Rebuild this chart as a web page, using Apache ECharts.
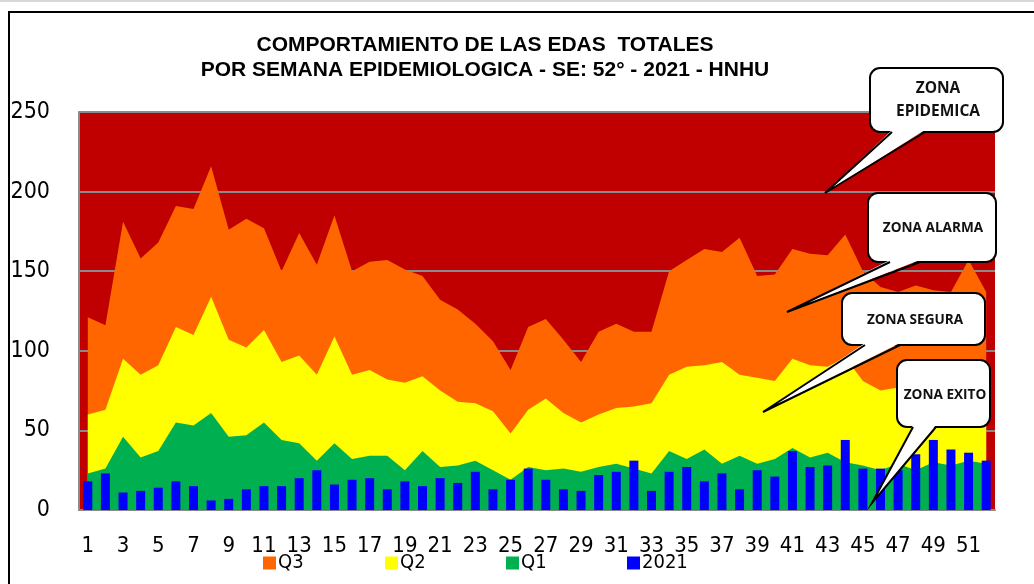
<!DOCTYPE html>
<html>
<head>
<meta charset="utf-8">
<script src="https://cdn.jsdelivr.net/npm/echarts@6/dist/echarts.min.js"></script>
<style>
  html, body { margin: 0; padding: 0; background: #fff; }
  #display { width: 1034px; height: 584px; }
</style>
</head>
<body>
<div id="display"></div>
<script>
// semanas epidemiologicas 1..52
var semanas = [];
for (var s = 1; s <= 52; s++) semanas.push(String(s));

// canal endemico (cuartiles) y casos 2021
var q3 = [121, 116, 181, 158, 168, 191, 189, 216, 176, 183, 177, 150, 174, 154, 185, 150, 156, 157, 151, 147,
  132, 126, 117, 106, 88, 115, 120, 107, 93, 112, 117, 112, 112, 150, 157, 164, 162, 171, 147, 148,
  164, 161, 160, 173, 150, 140, 137, 141, 138, 137, 157, 137];
var q2 = [60, 63, 95, 85, 91, 115, 110, 134, 107, 102, 113, 93, 97, 85, 109, 85, 88, 82, 80, 84,
  75, 68, 67, 62, 48, 63, 70, 61, 55, 60, 64, 65, 67, 85, 90, 91, 93, 85, 83, 81,
  95, 91, 90, 96, 81, 75, 77, 79, 80, 78, 82, 78];
var q1 = [23, 26, 46, 33, 37, 55, 53, 61, 46, 47, 55, 44, 42, 31, 42, 32, 34, 34, 25, 37,
  27, 28, 31, 25, 19, 27, 25, 26, 24, 27, 29, 26, 23, 37, 32, 38, 29, 34, 29, 32,
  39, 33, 36, 30, 28, 25, 29, 25, 30, 28, 31, 29];
var casos2021 = [18, 23, 11, 12, 14, 18, 15, 6, 7, 13, 15, 15, 20, 25, 16, 19, 20, 13, 18, 15,
  20, 17, 24, 13, 19, 26, 19, 13, 12, 22, 24, 31, 12, 24, 27, 18, 23, 13, 25, 21,
  37, 27, 28, 44, 26, 26, 25, 35, 44, 38, 36, 31];

var yTicks = [0, 50, 100, 150, 200, 250];

var labelFont = "'Liberation Sans Narrow', 'DejaVu Sans Condensed', sans-serif";
var boxFont = "'Open Sans', 'Noto Sans', sans-serif";
var titleFont = "'Liberation Sans', Arial, sans-serif";

// globo de texto: rectangulo redondeado + cola
function globo(x0, y0, x1, y1, b1, b2, tx, ty) {
  return [
    {
      type: 'rect', z: 100,
      shape: { x: x0, y: y0, width: x1 - x0, height: y1 - y0, r: 10 },
      style: { fill: '#fff', stroke: '#000', lineWidth: 2 }
    },
    {
      type: 'polygon', z: 101,
      shape: { points: [[b1, y1 - 2], [b2, y1 - 2], [tx, ty]] },
      style: { fill: '#fff', stroke: null }
    },
    {
      type: 'polyline', z: 102,
      shape: { points: [[b1, y1], [tx, ty], [b2, y1]] },
      style: { fill: null, stroke: '#000', lineWidth: 2 }
    }
  ];
}
function texto(t, x, y, size) {
  return {
    type: 'text', z: 103,
    style: {
      text: t, x: x, y: y, fill: '#111',
      font: 'bold ' + size + 'px ' + boxFont,
      textAlign: 'center', verticalAlign: 'middle'
    }
  };
}

var myDisplay = echarts.init(document.getElementById('display'));
myDisplay.setOption({
  animation: false,
  backgroundColor: '#fff',
  title: [
    { text: 'COMPORTAMIENTO DE LAS EDAS  TOTALES', top: 35 },
    { text: 'POR SEMANA EPIDEMIOLOGICA - SE: 52° - 2021 - HNHU', top: 60 }
  ].map(function (t) {
    t.left = 485;
    t.textAlign = 'center';
    t.padding = 0;
    t.textStyle = { fontFamily: titleFont, fontWeight: 'bold', fontSize: 21, color: '#000' };
    return t;
  }),
  legend: [
    { data: ['Q3'], left: 263, top: 553 },
    { data: ['Q2'], left: 385, top: 553 },
    { data: ['Q1'], left: 506, top: 553 },
    { data: ['2021'], left: 627, top: 553 }
  ].map(function (l) {
    l.itemWidth = 13; l.itemHeight = 13; l.icon = 'rect'; l.itemGap = 0; l.padding = 0;
    l.textStyle = { fontFamily: labelFont, fontSize: 20, color: '#000', padding: [2, 0, 0, -3] };
    return l;
  }),
  grid: {
    left: 79, right: 39, top: 112, bottom: 74,
    show: true,
    backgroundColor: '#C00000',
    borderWidth: 0
  },
  xAxis: {
    type: 'category',
    data: semanas,
    boundaryGap: true,
    axisLine: { show: true, lineStyle: { color: '#8a8a8a', width: 2 } },
    axisTick: { show: false },
    axisLabel: {
      interval: 1,
      margin: 25,
      fontFamily: labelFont,
      fontSize: 22,
      color: '#000'
    },
    z: 3
  },
  yAxis: {
    type: 'value',
    min: yTicks[0],
    max: yTicks[yTicks.length - 1],
    interval: 50,
    axisLine: { show: true, lineStyle: { color: '#8a8a8a', width: 2 } },
    axisTick: { show: false },
    axisLabel: {
      margin: 29,
      fontFamily: labelFont,
      fontSize: 23,
      color: '#000'
    },
    splitLine: { show: true, lineStyle: { color: '#8a8a8a', width: 2 } }
  },
  series: [
    {
      name: 'Q3', type: 'line', data: q3, symbol: 'none',
      lineStyle: { width: 0 }, itemStyle: { color: '#FF6600' },
      areaStyle: { color: '#FF6600', opacity: 1 }, z: 2
    },
    {
      name: 'Q2', type: 'line', data: q2, symbol: 'none',
      lineStyle: { width: 0 }, itemStyle: { color: '#FFFF00' },
      areaStyle: { color: '#FFFF00', opacity: 1 }, z: 3
    },
    {
      name: 'Q1', type: 'line', data: q1, symbol: 'none',
      lineStyle: { width: 0 }, itemStyle: { color: '#00B050' },
      areaStyle: { color: '#00B050', opacity: 1 }, z: 4
    },
    {
      name: '2021', type: 'bar', data: casos2021, barWidth: 9,
      itemStyle: { color: '#0000FF' }, z: 5
    }
  ],
  graphic: [
    // marco exterior
    { type: 'line', shape: { x1: 0, y1: 1, x2: 1034, y2: 1 }, style: { stroke: '#b0b0b0', lineWidth: 1 } },
    { type: 'rect', shape: { x: 9, y: 12, width: 1040, height: 600 }, style: { fill: 'none', stroke: '#000', lineWidth: 2 } }
  ].concat(
    globo(870, 68, 1003, 132, 892, 925, 825, 193),
    [texto('ZONA', 938, 89, 15.5), texto('EPIDEMICA', 938, 112, 15.5)],
    globo(868, 193, 996, 262, 890, 920, 787, 312),
    [texto('ZONA ALARMA', 933, 228, 13.6)],
    globo(842, 293, 985, 345, 865, 900, 763, 412),
    [texto('ZONA SEGURA', 915, 320, 13.6)],
    globo(897, 360, 990, 427, 913, 936, 872, 503),
    [texto('ZONA EXITO', 945, 395, 13.6)]
  )
});

window.onresize = function () {
  myDisplay.resize();
};
</script>
</body>
</html>
